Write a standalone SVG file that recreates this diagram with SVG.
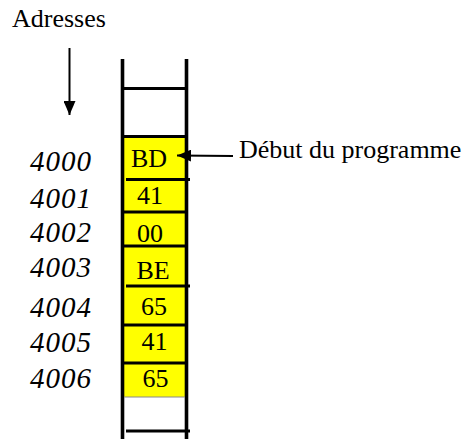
<svg xmlns="http://www.w3.org/2000/svg" width="469" height="439" viewBox="0 0 469 439">
<defs>
<style>
.t{font-family:"Liberation Serif","Times New Roman",serif;font-size:26px;fill:#000}
.a{font-family:"Liberation Serif","Times New Roman",serif;font-size:29px;font-style:italic;fill:#000}
.c{text-anchor:middle}
.cell{fill:#FFFF00;stroke:none}
.sep{stroke:#000;stroke-width:3}
.wall{stroke:#000;stroke-width:3.6;fill:none}
.arr{stroke:#000;stroke-width:2;fill:none}
</style>
<marker id="ah" viewBox="0 0 14 12" refX="14" refY="6" markerWidth="14" markerHeight="12" markerUnits="userSpaceOnUse" orient="auto">
<path d="M0,0 L14,6 L0,12 Z" fill="#000"/>
</marker>
</defs>
<rect width="469" height="439" fill="#fff"/>
<text id="label-adresses" class="t" x="12" y="27">Adresses</text>
<g id="memory">
<g id="cell-4000"><rect class="cell" x="124" y="137" width="61" height="42"/><text class="t c" x="149" y="166.5">BD</text></g>
<g id="cell-4001"><rect class="cell" x="124" y="179" width="61" height="33"/><text class="t c" x="150" y="204">41</text></g>
<g id="cell-4002"><rect class="cell" x="124" y="212" width="61" height="34"/><text class="t c" x="150" y="241.5">00</text></g>
<g id="cell-4003"><rect class="cell" x="124" y="246" width="61" height="40"/><text class="t c" x="153" y="279">BE</text></g>
<g id="cell-4004"><rect class="cell" x="124" y="286" width="61" height="39"/><text class="t c" x="154" y="315">65</text></g>
<g id="cell-4005"><rect class="cell" x="124" y="325" width="61" height="38"/><text class="t c" x="154.5" y="350">41</text></g>
<g id="cell-4006"><rect class="cell" x="124" y="363" width="61" height="34"/><text class="t c" x="155.5" y="386.5">65</text></g>
<line class="wall" x1="122.5" y1="59" x2="122.5" y2="439"/>
<line class="wall" x1="186.5" y1="59" x2="186.5" y2="439"/>
<line class="sep" x1="122" y1="88.5" x2="186" y2="88.5" stroke-width="3.3"/>
<line class="sep" x1="122" y1="136.5" x2="186" y2="136.5"/>
<line class="sep" x1="126" y1="179.5" x2="190" y2="179.5" stroke-width="3.5"/>
<line class="sep" x1="122" y1="212" x2="186" y2="212" stroke-width="2.6"/>
<line class="sep" x1="122" y1="246" x2="186" y2="246" stroke-width="2.6"/>
<line class="sep" x1="126" y1="286" x2="190" y2="286" stroke-width="3.5"/>
<line class="sep" x1="122" y1="325" x2="186" y2="325" stroke-width="2.6"/>
<line class="sep" x1="122" y1="363" x2="186" y2="363" stroke-width="2.6"/>
<line x1="124" y1="397" x2="185" y2="397" stroke="#888" stroke-width="1"/>
<line class="sep" x1="126" y1="431" x2="190" y2="431" stroke-width="3.6"/>
</g>
<g id="addresses">
<text class="a" x="30" y="170.5" textLength="61">4000</text>
<text class="a" x="30" y="208" textLength="61">4001</text>
<text class="a" x="30" y="241.5" textLength="61">4002</text>
<text class="a" x="30" y="277" textLength="61">4003</text>
<text class="a" x="30" y="316.5" textLength="61">4004</text>
<text class="a" x="30" y="351.5" textLength="61">4005</text>
<text class="a" x="30" y="388" textLength="61">4006</text>
</g>
<text id="label-debut" class="t" x="239" y="158">Début du programme</text>
<g id="connectors">
<line class="arr" x1="69.5" y1="48" x2="69.5" y2="115" marker-end="url(#ah)"/>
<line class="arr" x1="233" y1="156" x2="177" y2="155.5" marker-end="url(#ah)"/>
</g>
</svg>
